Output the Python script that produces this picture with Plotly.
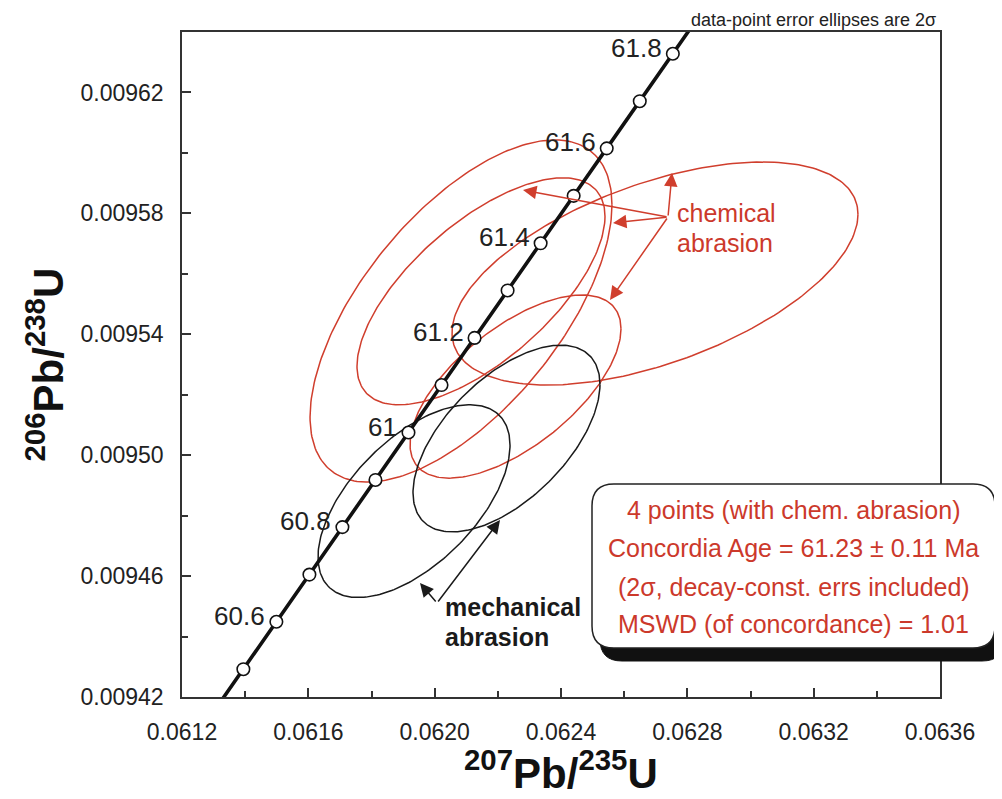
import numpy as np
import plotly.graph_objects as go

# ---------------- data ----------------
# Concordia curve (age in Ma, 207Pb/235U, 206Pb/238U)
conc_age = [60.4, 60.5, 60.6, 60.7, 60.8, 60.9, 61.0, 61.1, 61.2, 61.3, 61.4, 61.5, 61.6, 61.7, 61.8, 61.9]
conc_x = [0.0612898, 0.0613943, 0.0614988, 0.0616034, 0.0617079, 0.0618125, 0.0619171, 0.0620217,
          0.0621263, 0.0622309, 0.0623355, 0.0624401, 0.0625448, 0.0626494, 0.0627541, 0.0628588]
conc_y = [0.0094136, 0.0094292, 0.0094449, 0.0094605, 0.0094762, 0.0094918, 0.0095075, 0.0095232,
          0.0095388, 0.0095545, 0.0095701, 0.0095858, 0.0096015, 0.0096171, 0.0096328, 0.0096485]
marker_ages = [60.5, 60.6, 60.7, 60.8, 60.9, 61.0, 61.1, 61.2, 61.3, 61.4, 61.5, 61.6, 61.7, 61.8]
label_ages = [60.6, 60.8, 61.0, 61.2, 61.4, 61.6, 61.8]
label_text = ["60.6", "60.8", "61", "61.2", "61.4", "61.6", "61.8"]

# Error ellipses (2 sigma): center x, center y, 2s x, 2s y, rho
chem_cx = [0.0620834, 0.0621467, 0.0626976, 0.0622560]
chem_cy = [0.0095477, 0.0095542, 0.0095601, 0.0095227]
chem_sx = [0.000478, 0.0003926, 0.0006427, 0.000334]
chem_sy = [0.0000566, 0.00003755, 0.0000369, 0.0000303]
chem_rho = [0.62, 0.66, 0.53, 0.63]

mech_cx = [0.0619346, 0.0622274]
mech_cy = [0.0094848, 0.0095055]
mech_sx = [0.000304, 0.000296]
mech_sy = [0.0000319, 0.0000309]
mech_rho = [0.58, 0.58]

x_ticks = [0.0612, 0.0616, 0.0620, 0.0624, 0.0628, 0.0632, 0.0636]
x_ticktext = ["0.0612", "0.0616", "0.0620", "0.0624", "0.0628", "0.0632", "0.0636"]
x_minor = [0.0614, 0.0618, 0.0622, 0.0626, 0.0630, 0.0634]
y_ticks = [0.00942, 0.00946, 0.00950, 0.00954, 0.00958, 0.00962]
y_ticktext = ["0.00942", "0.00946", "0.00950", "0.00954", "0.00958", "0.00962"]
y_minor = [0.00944, 0.00948, 0.00952, 0.00956, 0.00960]

stats_lines = ["4 points (with chem. abrasion)",
               "Concordia Age = 61.23 \u00b1 0.11 Ma",
               "(2\u03c3, decay-const. errs included)",
               "MSWD (of concordance) = 1.01"]

# ---------------- styling / layout constants ----------------
W, H = 1002, 799
OFF = 8  # page body margin
L, R, T, B = 182, 940, 32, 697   # plot area in page pixels
RED = "#d03e2d"
RED_TXT = "#cc392b"
FONT = "Liberation Sans, Arial, sans-serif"


def px_x(px):
    return (px - L) / (R - L)


def px_y(py):
    return (B - py) / (B - T)


def data_x(px):
    return 0.0612 + (px - L) * 0.0024 / (R - L)


def data_y(py):
    return 0.00942 + (B - py) * 0.00022 / (B - T)


def ellipse(cx, cy, sx, sy, rho, n=241):
    t = np.linspace(0, 2 * np.pi, n)
    x = cx + sx * np.cos(t)
    y = cy + sy * (rho * np.cos(t) + np.sqrt(1 - rho ** 2) * np.sin(t))
    return x, y


fig = go.Figure()

for i in range(len(chem_cx)):
    ex, ey = ellipse(chem_cx[i], chem_cy[i], chem_sx[i], chem_sy[i], chem_rho[i])
    fig.add_trace(go.Scatter(x=ex, y=ey, mode="lines", line=dict(color=RED, width=1.5),
                             hoverinfo="skip", showlegend=False))
for i in range(len(mech_cx)):
    ex, ey = ellipse(mech_cx[i], mech_cy[i], mech_sx[i], mech_sy[i], mech_rho[i])
    fig.add_trace(go.Scatter(x=ex, y=ey, mode="lines", line=dict(color="#1a1a1a", width=1.5),
                             hoverinfo="skip", showlegend=False))

# concordia line
fig.add_trace(go.Scatter(x=conc_x, y=conc_y, mode="lines", line=dict(color="#111111", width=3.6),
                         hoverinfo="skip", showlegend=False))
mk_x = [conc_x[conc_age.index(a)] for a in marker_ages]
mk_y = [conc_y[conc_age.index(a)] for a in marker_ages]
fig.add_trace(go.Scatter(x=mk_x, y=mk_y, mode="markers",
                         marker=dict(symbol="circle", size=12.5, color="white",
                                     line=dict(color="#111111", width=1.6)),
                         hoverinfo="skip", showlegend=False, cliponaxis=False))

annotations = []
for a, txt in zip(label_ages, label_text):
    k = conc_age.index(a)
    annotations.append(dict(x=conc_x[k], y=conc_y[k], xref="x", yref="y", text=txt,
                            showarrow=False, xanchor="right", yanchor="middle",
                            xshift=-9, yshift=6, font=dict(family=FONT, size=26, color="#222222")))

# axis titles
annotations.append(dict(x=0.5, y=px_y(770), xref="paper", yref="paper",
                        text="<b><sup>207</sup>Pb/<sup>235</sup>U</b>", showarrow=False,
                        xanchor="center", yanchor="middle",
                        font=dict(family=FONT, size=42, color="#111111")))
annotations.append(dict(x=px_x(45), y=0.5, xref="paper", yref="paper",
                        text="<b><sup>206</sup>Pb/<sup>238</sup>U</b>", showarrow=False,
                        xanchor="center", yanchor="middle", textangle=-90,
                        font=dict(family=FONT, size=42, color="#111111")))

# top note
annotations.append(dict(x=px_x(938), y=px_y(20), xref="paper", yref="paper",
                        text="data-point error ellipses are 2\u03c3", showarrow=False,
                        xanchor="right", yanchor="middle",
                        font=dict(family=FONT, size=18, color="#222222")))

# chemical abrasion label + arrows
annotations.append(dict(x=px_x(675), y=px_y(213), xref="paper", yref="paper", text="chemical",
                        showarrow=False, xanchor="left", yanchor="middle",
                        font=dict(family=FONT, size=25, color=RED_TXT)))
annotations.append(dict(x=px_x(675), y=px_y(243), xref="paper", yref="paper", text="abrasion",
                        showarrow=False, xanchor="left", yanchor="middle",
                        font=dict(family=FONT, size=25, color=RED_TXT)))

origin = (668, 217)
for tip in [(672, 173), (523, 190), (613, 223), (610, 300)]:
    annotations.append(dict(x=data_x(tip[0]), y=data_y(tip[1]), xref="x", yref="y",
                            ax=data_x(origin[0]), ay=data_y(origin[1]), axref="x", ayref="y",
                            text="", showarrow=True, arrowhead=2, arrowsize=1.8, arrowwidth=1.5,
                            arrowcolor=RED, standoff=0, startstandoff=0))

# mechanical abrasion label + arrows
annotations.append(dict(x=px_x(443), y=px_y(607), xref="paper", yref="paper", text="<b>mechanical</b>",
                        showarrow=False, xanchor="left", yanchor="middle",
                        font=dict(family=FONT, size=25, color="#1a1a1a")))
annotations.append(dict(x=px_x(443), y=px_y(637), xref="paper", yref="paper", text="<b>abrasion</b>",
                        showarrow=False, xanchor="left", yanchor="middle",
                        font=dict(family=FONT, size=25, color="#1a1a1a")))
corner = (437, 603)
for tip in [(500, 520), (420, 583)]:
    annotations.append(dict(x=data_x(tip[0]), y=data_y(tip[1]), xref="x", yref="y",
                            ax=data_x(corner[0]), ay=data_y(corner[1]), axref="x", ayref="y",
                            text="", showarrow=True, arrowhead=2, arrowsize=1.8, arrowwidth=1.5,
                            arrowcolor="#1a1a1a", standoff=0, startstandoff=0))

# stats box text
box_cx = (592 + 995) / 2
for line, py in zip(stats_lines, [510, 548, 587, 624]):
    annotations.append(dict(x=px_x(box_cx), y=px_y(py), xref="paper", yref="paper", text=line,
                            showarrow=False, xanchor="center", yanchor="middle",
                            font=dict(family=FONT, size=25, color=RED_TXT)))


def rounded_path(x0, y0, x1, y1, r):
    # page pixel coordinates (y down) -> paper path with rounded corners
    X0, X1 = px_x(x0), px_x(x1)
    Y0, Y1 = px_y(y0), px_y(y1)  # Y0 top, Y1 bottom
    rx = r / (R - L)
    ry = r / (B - T)
    return (f"M {X0+rx},{Y0} L {X1-rx},{Y0} Q {X1},{Y0} {X1},{Y0-ry} "
            f"L {X1},{Y1+ry} Q {X1},{Y1} {X1-rx},{Y1} L {X0+rx},{Y1} "
            f"Q {X0},{Y1} {X0},{Y1+ry} L {X0},{Y0-ry} Q {X0},{Y0} {X0+rx},{Y0} Z")


shapes = [
    dict(type="path", xref="paper", yref="paper", path=rounded_path(600, 497, 1004, 661, 22),
         fillcolor="#111111", line=dict(color="#111111", width=1), layer="above"),
    dict(type="path", xref="paper", yref="paper", path=rounded_path(592, 484, 995, 648, 22),
         fillcolor="white", line=dict(color="#222222", width=1.5), layer="above"),
]

axis_common = dict(showgrid=False, zeroline=False, showline=True, linecolor="#333333",
                   linewidth=1.5, mirror=True, ticks="inside", ticklen=9, tickwidth=1.5,
                   tickcolor="#333333", tickfont=dict(family=FONT, size=23, color="#222222"),
                   tickmode="array")

fig.update_layout(
    width=W, height=H,
    margin=dict(l=L - OFF, r=W - (R - OFF), t=T - OFF, b=H - (B - OFF), pad=0),
    paper_bgcolor="white", plot_bgcolor="white",
    xaxis=dict(range=[0.0612, 0.0636], tickvals=x_ticks, ticktext=x_ticktext,
               minor=dict(tickvals=x_minor, ticks="inside", ticklen=6, tickwidth=1.5, tickcolor="#333333"),
               ticklabelstandoff=14, **axis_common),
    yaxis=dict(range=[0.00942, 0.00964], tickvals=y_ticks, ticktext=y_ticktext,
               minor=dict(tickvals=y_minor, ticks="inside", ticklen=6, tickwidth=1.5, tickcolor="#333333"),
               ticklabelstandoff=12, **axis_common),
    annotations=annotations,
    shapes=shapes,
    showlegend=False,
)

fig.write_html("out.html")
